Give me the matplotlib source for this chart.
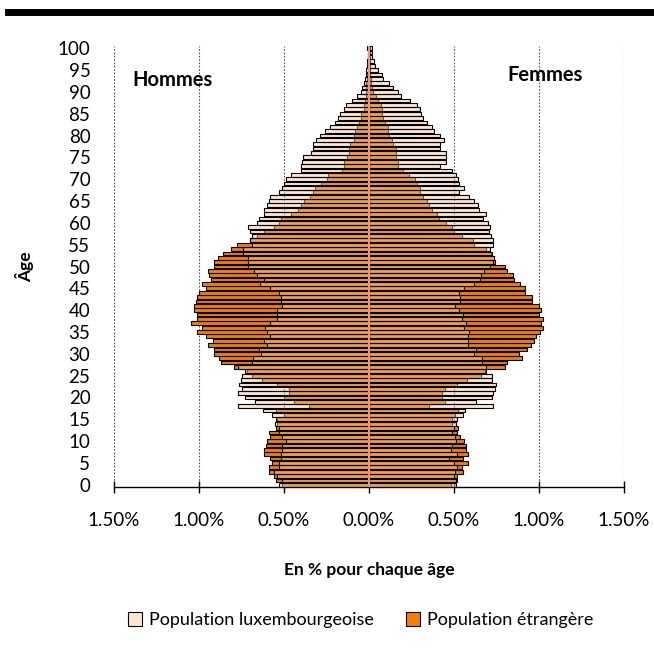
import matplotlib
matplotlib.use('Agg')
import matplotlib.pyplot as plt
import numpy as np
from matplotlib.lines import Line2D
from matplotlib.patches import Patch

plt.rcParams['font.family'] = ['Lato', 'DejaVu Sans']

# ages 0..100, share in % of total population
ages = np.arange(0, 101)

men_lux = [
    0.53, 0.51, 0.54, 0.557, 0.53, 0.53, 0.52, 0.515, 0.51, 0.51,
    0.49, 0.51, 0.527, 0.53, 0.555, 0.55, 0.57, 0.625, 0.77, 0.67,
    0.73, 0.77, 0.745, 0.765, 0.755, 0.75, 0.727, 0.77, 0.69, 0.68,
    0.635, 0.65, 0.60, 0.62, 0.58, 0.60, 0.61, 0.58, 0.54, 0.54,
    0.54, 0.51, 0.52, 0.52, 0.53, 0.58, 0.64, 0.62, 0.66, 0.675,
    0.71, 0.71, 0.71, 0.74, 0.74, 0.69, 0.70, 0.69, 0.70, 0.71,
    0.66, 0.65, 0.62, 0.62, 0.60, 0.59, 0.58, 0.53, 0.51, 0.50,
    0.49, 0.46, 0.40, 0.40, 0.395, 0.39, 0.34, 0.33, 0.33, 0.31,
    0.29, 0.26, 0.23, 0.20, 0.18, 0.17, 0.15, 0.135, 0.10, 0.07,
    0.05, 0.04, 0.03, 0.025, 0.02, 0.015, 0.012, 0.01, 0.008, 0.005,
    0.01,
]
men_foreign = [
    0.51, 0.547, 0.557, 0.59, 0.59, 0.57, 0.585, 0.62, 0.615, 0.606,
    0.60, 0.58, 0.59, 0.547, 0.54, 0.54, 0.50, 0.55, 0.355, 0.44,
    0.50, 0.47, 0.47, 0.54, 0.63, 0.69, 0.72, 0.795, 0.87, 0.88,
    0.91, 0.91, 0.95, 0.92, 0.96, 1.01, 0.98, 1.045, 1.01, 1.01,
    1.03, 1.03, 1.02, 1.01, 1.00, 0.96, 0.98, 0.93, 0.94, 0.95,
    0.91, 0.91, 0.89, 0.86, 0.81, 0.776, 0.70, 0.66, 0.62, 0.56,
    0.53, 0.52, 0.46, 0.42, 0.40, 0.38, 0.35, 0.33, 0.32, 0.28,
    0.25, 0.24, 0.16, 0.15, 0.15, 0.13, 0.12, 0.12, 0.11, 0.09,
    0.09, 0.08, 0.07, 0.06, 0.05, 0.045, 0.03, 0.03, 0.025, 0.02,
    0.02, 0.015, 0.015, 0.01, 0.01, 0.005, 0.005, 0.005, 0.003, 0.003,
    0.003,
]
women_lux = [
    0.51, 0.51, 0.50, 0.506, 0.52, 0.50, 0.47, 0.52, 0.48, 0.49,
    0.51, 0.506, 0.487, 0.50, 0.51, 0.52, 0.555, 0.565, 0.73, 0.63,
    0.725, 0.73, 0.74, 0.745, 0.725, 0.725, 0.69, 0.69, 0.663, 0.667,
    0.62, 0.627, 0.58, 0.58, 0.585, 0.59, 0.56, 0.57, 0.545, 0.55,
    0.53, 0.506, 0.535, 0.535, 0.53, 0.56, 0.62, 0.65, 0.657, 0.676,
    0.71, 0.73, 0.735, 0.725, 0.71, 0.73, 0.73, 0.72, 0.705, 0.71,
    0.70, 0.67, 0.69, 0.645, 0.64, 0.62, 0.59, 0.53, 0.56, 0.53,
    0.525, 0.51, 0.49, 0.42, 0.45, 0.455, 0.45, 0.42, 0.42, 0.44,
    0.42, 0.38, 0.37, 0.34, 0.315, 0.305, 0.30, 0.28, 0.24, 0.19,
    0.17, 0.14, 0.12, 0.085, 0.075, 0.055, 0.035, 0.03, 0.02, 0.015,
    0.015,
]
women_foreign = [
    0.48, 0.515, 0.52, 0.555, 0.545, 0.585, 0.55, 0.58, 0.57, 0.57,
    0.56, 0.535, 0.52, 0.525, 0.487, 0.49, 0.506, 0.525, 0.35, 0.447,
    0.43, 0.43, 0.447, 0.515, 0.575, 0.66, 0.68, 0.80, 0.81, 0.90,
    0.88, 0.93, 0.95, 0.97, 0.985, 1.005, 1.025, 1.01, 1.025, 1.00,
    1.01, 1.00, 0.96, 0.96, 0.92, 0.92, 0.89, 0.855, 0.845, 0.81,
    0.80, 0.74, 0.735, 0.72, 0.69, 0.62, 0.61, 0.545, 0.50, 0.49,
    0.45, 0.41, 0.40, 0.37, 0.355, 0.34, 0.32, 0.30, 0.30, 0.28,
    0.27, 0.235, 0.20, 0.17, 0.17, 0.157, 0.157, 0.157, 0.14, 0.135,
    0.12, 0.11, 0.11, 0.095, 0.085, 0.075, 0.075, 0.07, 0.055, 0.04,
    0.025, 0.02, 0.01, 0.01, 0.005, 0.005, 0.005, 0.003, 0.003, 0.003,
    0.003,
]

xticks = [-1.5, -1.0, -0.5, 0.0, 0.5, 1.0, 1.5]

foreign_col = '#F08000'
lux_rgba = (250 / 255, 200 / 255, 150 / 255, 0.45)

fig = plt.figure(figsize=(6.54, 6.48), dpi=100)
ax = fig.add_axes([114 / 654, 1 - 487 / 648, 510 / 654, 441 / 648])

h = 0.86
ax.barh(ages, -np.array(men_foreign), height=h, color=foreign_col,
        edgecolor='black', linewidth=0.8, zorder=2)
ax.barh(ages, np.array(women_foreign), height=h, color=foreign_col,
        edgecolor='black', linewidth=0.8, zorder=2)
ax.barh(ages, -np.array(men_lux), height=h, facecolor=lux_rgba,
        edgecolor='black', linewidth=0.8, zorder=3)
ax.barh(ages, np.array(women_lux), height=h, facecolor=lux_rgba,
        edgecolor='black', linewidth=0.8, zorder=3)

ax.axvline(0, color='#E9967A', linewidth=1.5, zorder=4)
for xv in xticks:
    if xv != 0:
        ax.axvline(xv, color='#555555', linewidth=0.8, linestyle=(0, (1.5, 1.5)), zorder=1)

ax.set_xlim(-1.5, 1.5)
ax.set_ylim(-0.5, 100.5)
ax.set_xticks(xticks)
ax.set_xticklabels([f'{abs(v):.2f}%' for v in xticks], fontsize=13.5)
ax.set_yticks(np.arange(0, 101, 5))
ax.tick_params(axis='y', length=0, labelsize=13.5, pad=17)
ax.tick_params(axis='x', direction='inout', length=8, width=1, pad=14)
for s in ['top', 'right', 'left']:
    ax.spines[s].set_visible(False)
ax.spines['bottom'].set_linewidth(1)

ax.text(0.037, 0.923, 'Hommes', transform=ax.transAxes, fontsize=14.5,
        fontweight='bold', ha='left', va='center')
ax.text(0.845, 0.934, 'Femmes', transform=ax.transAxes, fontsize=14.5,
        fontweight='bold', ha='center', va='center')

ax.set_xlabel('En % pour chaque âge', fontsize=12.5, fontweight='bold', labelpad=24)
ax.set_ylabel('Âge', fontsize=12.5, fontweight='bold', labelpad=17)

fig.add_artist(Line2D([8 / 654, 1], [1 - 12 / 648, 1 - 12 / 648],
                      color='black', linewidth=5, transform=fig.transFigure))

legend_labels = ['Population luxembourgeoise', 'Population étrangère']
legend_colors = ['#FDE6D0', foreign_col]
legend_x = [128 / 654, 406 / 654]
for lab, col, lx in zip(legend_labels, legend_colors, legend_x):
    leg = fig.legend(handles=[Patch(facecolor=col, edgecolor='black',
                                    linewidth=0.8, label=lab)],
                     loc='center left', bbox_to_anchor=(lx, 1 - 620 / 648),
                     frameon=False, fontsize=13, handlelength=0.8,
                     handleheight=0.8, handletextpad=0.35,
                     borderpad=0, borderaxespad=0)

fig.savefig('out.png', dpi=100)
